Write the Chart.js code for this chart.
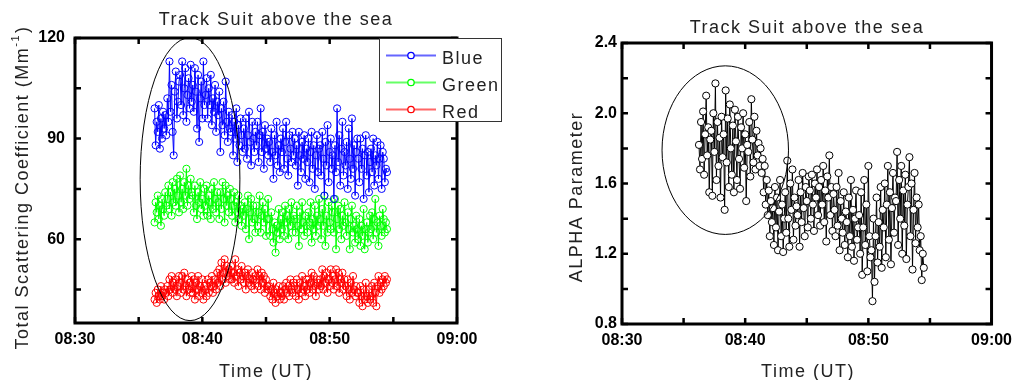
<!DOCTYPE html>
<html>
<head>
<meta charset="utf-8">
<script src="https://cdn.jsdelivr.net/npm/chart.js@4.4.1/dist/chart.umd.min.js"></script>
<style>
  body { margin: 0; background: #fff; }
  #wrap { position: relative; width: 1019px; height: 380px; }
  canvas { position: absolute; top: 0; }
  #left { left: 0; }
  #right { left: 520px; }
</style>
</head>
<body>
<div id="wrap">
  <canvas id="left" width="520" height="380"></canvas>
  <canvas id="right" width="499" height="380"></canvas>
</div>
<script>
// time of each sample, seconds after 08:30 UT (one row = one minute)
const times = [
  375, 380, 385, 390, 395, 400, 405, 410, 415, 420, 425, 430,
  435, 440, 445, 450, 455, 460, 465, 470, 475, 480, 485, 490,
  495, 500, 505, 510, 515, 520, 525, 530, 535, 540, 545, 550,
  555, 560, 565, 570, 575, 580, 585, 590, 595, 600, 605, 610,
  615, 620, 625, 630, 635, 640, 645, 650, 655, 660, 665, 670,
  675, 680, 685, 690, 695, 700, 705, 710, 715, 720, 725, 730,
  735, 740, 745, 750, 755, 760, 765, 770, 775, 780, 785, 790,
  795, 800, 805, 810, 815, 820, 825, 830, 835, 840, 845, 850,
  855, 860, 865, 870, 875, 880, 885, 890, 895, 900, 905, 910,
  915, 920, 925, 930, 935, 940, 945, 950, 955, 960, 965, 970,
  975, 980, 985, 990, 995, 1000, 1005, 1010, 1015, 1020, 1025, 1030,
  1035, 1040, 1045, 1050, 1055, 1060, 1065, 1070, 1075, 1080, 1085, 1090,
  1095, 1100, 1105, 1110, 1115, 1120, 1125, 1130, 1135, 1140, 1145, 1150,
  1155, 1160, 1165, 1170, 1175, 1180, 1185, 1190, 1195, 1200, 1205, 1210,
  1215, 1220, 1225, 1230, 1235, 1240, 1245, 1250, 1255, 1260, 1265, 1270,
  1275, 1280, 1285, 1290, 1295, 1300, 1305, 1310, 1315, 1320, 1325, 1330,
  1335, 1340, 1345, 1350, 1355, 1360, 1365, 1370, 1375, 1380, 1385, 1390,
  1395, 1400, 1405, 1410, 1415, 1420, 1425, 1430, 1435, 1440, 1445, 1450,
  1455, 1460, 1465, 1470
];

// total scattering coefficient (Mm-1)
const blue = [
  99, 88, 95, 92, 100, 87, 96, 90, 98, 93, 97, 91,
  102, 95, 113, 98, 106, 92, 85, 104, 110, 96, 101, 107,
  109, 100, 113, 97, 105, 111, 95, 103, 108, 99, 112, 101,
  106, 98, 111, 104, 93, 109, 89, 102, 107, 96, 113, 100,
  103, 108, 96, 105, 100, 109, 94, 102, 98, 106, 92, 101,
  97, 104, 86, 99, 94, 101, 91, 107, 95, 89, 98, 93,
  92, 97, 85, 95, 90, 99, 83, 94, 88, 96, 91, 86,
  93, 87, 96, 84, 91, 98, 89, 82, 95, 90, 86, 92,
  88, 95, 83, 91, 99, 86, 92, 81, 94, 87, 90, 85,
  89, 83, 93, 86, 78, 91, 85, 95, 82, 88, 80, 90,
  86, 93, 81, 89, 95, 84, 79, 91, 87, 83, 92, 85,
  90, 82, 88, 76, 92, 85, 80, 89, 84, 91, 78, 87,
  83, 90, 77, 86, 92, 81, 88, 75, 85, 91, 80, 87,
  88, 79, 92, 84, 73, 89, 82, 94, 77, 86, 90, 81,
  85, 72, 88, 80, 99, 83, 91, 76, 87, 95, 79, 86,
  82, 89, 75, 93, 84, 78, 96, 81, 88, 73, 86, 90,
  84, 77, 90, 81, 87, 72, 85, 91, 79, 86, 74, 83,
  87, 80, 90, 76, 85, 82, 89, 78, 84, 88, 75, 86,
  84, 77, 81, 80
];
const green = [
  65, 71, 68, 73, 66, 70, 64, 72, 69, 67, 74, 70,
  72, 76, 69, 74, 67, 77, 71, 75, 70, 78, 73, 68,
  79, 71, 75, 69, 77, 73, 81, 70, 76, 72, 78, 74,
  73, 68, 76, 70, 66, 74, 71, 77, 69, 72, 67, 75,
  70, 76, 67, 73, 71, 66, 75, 69, 77, 72, 68, 74,
  71, 66, 74, 69, 77, 72, 65, 76, 70, 73, 68, 75,
  72, 67, 70, 74, 65, 71, 68, 73, 66, 70, 64, 69,
  67, 71, 63, 69, 73, 60, 68, 72, 65, 70, 66, 62,
  70, 64, 68, 73, 62, 67, 71, 65, 69, 61, 66, 72,
  66, 61, 68, 63, 59, 65, 56, 64, 62, 69, 60, 66,
  63, 68, 61, 70, 65, 67, 60, 69, 64, 71, 62, 67,
  66, 62, 70, 64, 58, 68, 63, 71, 65, 61, 67, 64,
  62, 68, 65, 71, 59, 66, 63, 70, 61, 67, 64, 72,
  66, 60, 69, 64, 73, 58, 67, 62, 71, 65, 63, 70,
  68, 62, 72, 57, 66, 70, 63, 69, 60, 67, 64, 71,
  65, 61, 68, 63, 57, 66, 70, 62, 64, 59, 67, 63,
  60, 66, 58, 64, 61, 69, 57, 63, 65, 59, 62, 67,
  63, 68, 60, 66, 72, 62, 65, 58, 67, 64, 61, 69,
  66, 62, 65, 63
];
const red = [
  42, 44, 41, 45, 43, 42, 46, 43, 44, 42, 45, 44,
  46, 43, 48, 45, 49, 44, 47, 45, 48, 43, 46, 49,
  47, 44, 49, 45, 50, 46, 43, 48, 45, 47, 44, 49,
  44, 48, 42, 47, 45, 49, 43, 46, 44, 48, 42, 46,
  45, 43, 48, 44, 47, 46, 49, 44, 46, 48, 45, 50,
  47, 51, 46, 53, 48, 50, 54, 47, 52, 49, 51, 48,
  52, 48, 50, 47, 54, 49, 51, 46, 50, 48, 52, 49,
  47, 50, 45, 49, 51, 47, 48, 46, 50, 48, 45, 49,
  48, 51, 46, 49, 45, 50, 47, 49, 44, 48, 46, 45,
  46, 43, 45, 42, 47, 44, 41, 45, 43, 46, 42, 44,
  43, 46, 42, 45, 47, 44, 46, 43, 48, 45, 44, 47,
  46, 43, 48, 45, 42, 47, 44, 49, 45, 46, 43, 48,
  45, 48, 44, 47, 50, 45, 49, 46, 43, 48, 47, 45,
  48, 46, 51, 45, 49, 47, 50, 44, 48, 46, 51, 47,
  49, 45, 48, 51, 46, 50, 44, 48, 47, 50, 45, 48,
  46, 43, 48, 45, 42, 47, 44, 49, 45, 43, 46, 44,
  44, 41, 46, 43, 40, 45, 42, 47, 43, 41, 45, 42,
  43, 46, 41, 47, 44, 40, 46, 49, 44, 47, 45, 48,
  46, 49, 47, 48
];
// ALPHA parameter
const alpha = [
  1.82, 1.68, 1.95, 1.74, 2.01, 1.65, 1.88, 2.10, 1.76, 1.92, 1.55, 1.85,
  1.90, 1.53, 2.00, 1.78, 2.17, 1.62, 1.95, 1.70, 1.86, 1.52, 1.98, 1.75,
  1.88, 1.45, 2.13, 1.72, 1.97, 1.58, 2.05, 1.80, 1.65, 1.93, 1.55, 2.02,
  1.84, 1.62, 1.98, 1.74, 1.57, 1.92, 1.80, 2.00, 1.69, 1.88, 1.50, 1.82,
  1.78, 1.95, 1.64, 2.08, 1.85, 1.72, 1.98, 1.68, 1.90, 1.76, 1.83, 1.70,
  1.80, 1.66, 1.74, 1.55, 1.70, 1.48, 1.62, 1.42, 1.56, 1.30, 1.50, 1.38,
  1.46, 1.25, 1.58, 1.35, 1.52, 1.22, 1.44, 1.62, 1.30, 1.48, 1.21, 1.40,
  1.55, 1.32, 1.73, 1.40, 1.24, 1.60, 1.45, 1.68, 1.28, 1.52, 1.36, 1.47,
  1.42, 1.62, 1.24, 1.55, 1.38, 1.66, 1.46, 1.30, 1.58, 1.50, 1.35, 1.64,
  1.56, 1.40, 1.65, 1.48, 1.33, 1.60, 1.52, 1.68, 1.42, 1.58, 1.36, 1.62,
  1.48, 1.70, 1.38, 1.56, 1.27, 1.64, 1.52, 1.76, 1.42, 1.58, 1.33, 1.54,
  1.45, 1.30, 1.58, 1.36, 1.66, 1.22, 1.50, 1.40, 1.32, 1.55, 1.25, 1.44,
  1.38, 1.18, 1.52, 1.30, 1.62, 1.24, 1.45, 1.16, 1.40, 1.56, 1.28, 1.35,
  1.42, 1.20, 1.55, 1.08, 1.35, 1.62, 1.25, 1.48, 1.10, 1.70, 1.30, 1.18,
  1.22, 0.93, 1.40, 1.04, 1.30, 1.52, 1.15, 1.38, 1.24, 1.58, 1.12, 1.45,
  1.35, 1.60, 1.18, 1.48, 1.70, 1.28, 1.55, 1.14, 1.46, 1.66, 1.32, 1.52,
  1.50, 1.78, 1.25, 1.62, 1.40, 1.70, 1.20, 1.56, 1.36, 1.65, 1.17, 1.48,
  1.58, 1.75, 1.30, 1.60, 1.11, 1.45, 1.66, 1.26, 1.52, 1.35, 1.48, 1.22,
  1.30, 1.05, 1.20, 1.12
];

// axes
const xTickValues = [0, 600, 1200, 1800];
const xTickLabels = ['08:30', '08:40', '08:50', '09:00'];
const xMinorTicks = [300, 900, 1500];
const leftYTicks = [60, 90, 120];
const leftYMinor = [45, 75, 105];
const rightYTicks = [0.8, 1.2, 1.6, 2.0, 2.4];
const rightYMinor = [1.0, 1.4, 1.8, 2.2];

const seriesNames = ['Blue', 'Green', 'Red'];
const seriesColors = ['#0000ff', '#00ff00', '#ff0000'];

const FONT = "'Liberation Sans', Arial, sans-serif";

function points(vals) {
  return vals.map((v, i) => ({ x: times[i], y: v }));
}

// thick frame and inward ticks on all four sides
function drawFrame(chart, yMajor, yMinor) {
  const { ctx, chartArea: a, scales } = chart;
  const x = scales.x, y = scales.y;
  ctx.save();
  ctx.strokeStyle = '#000';
  ctx.lineWidth = 2.5;
  const len = 6;
  ctx.beginPath();
  xTickValues.concat(xMinorTicks).forEach(v => {
    const px = x.getPixelForValue(v);
    ctx.moveTo(px, a.bottom); ctx.lineTo(px, a.bottom - len);
    ctx.moveTo(px, a.top); ctx.lineTo(px, a.top + len);
  });
  yMajor.concat(yMinor).forEach(v => {
    const py = y.getPixelForValue(v);
    ctx.moveTo(a.left, py); ctx.lineTo(a.left + len, py);
    ctx.moveTo(a.right, py); ctx.lineTo(a.right - len, py);
  });
  ctx.stroke();
  ctx.lineWidth = 3;
  ctx.strokeRect(a.left, a.top, a.right - a.left, a.bottom - a.top);
  ctx.restore();
}

function drawEllipse(chart, cx, cy, rx, ry) {
  const { ctx, scales: { x, y } } = chart;
  const px = x.getPixelForValue(cx), py = y.getPixelForValue(cy);
  const rpx = Math.abs(x.getPixelForValue(cx + rx) - px);
  const rpy = Math.abs(y.getPixelForValue(cy + ry) - py);
  ctx.save();
  ctx.strokeStyle = '#000';
  ctx.lineWidth = 1;
  ctx.beginPath();
  ctx.ellipse(px, py, rpx, rpy, 0, 0, Math.PI * 2);
  ctx.stroke();
  ctx.restore();
}

function text(ctx, str, x, y, size, align) {
  ctx.font = size + 'px ' + FONT;
  ctx.letterSpacing = '1.5px';
  ctx.textAlign = align || 'center';
  ctx.textBaseline = 'alphabetic';
  ctx.fillStyle = '#222';
  ctx.fillText(str, x, y);
}

function xAxis() {
  return {
    type: 'linear', min: 0, max: 1800,
    grid: { display: false, drawTicks: false },
    border: { display: false },
    afterBuildTicks: s => { s.ticks = xTickValues.map(v => ({ value: v })); },
    ticks: {
      autoSkip: false, maxRotation: 0, padding: 7,
      color: '#000',
      font: { family: FONT, size: 16, weight: 'bold' },
      callback: v => xTickLabels[xTickValues.indexOf(v)]
    }
  };
}

const leftPlugin = {
  id: 'leftDecor',
  afterDatasetsDraw(chart) {
    const ctx = chart.ctx;
    drawEllipse(chart, 542, 77.9, 235, 42.2);
    drawFrame(chart, leftYTicks, leftYMinor);
    // legend box
    ctx.save();
    ctx.fillStyle = '#fff';
    ctx.fillRect(379, 38, 123, 84);
    ctx.strokeStyle = '#333';
    ctx.lineWidth = 1;
    ctx.strokeRect(379.5, 38.5, 122, 83);
    seriesNames.forEach((name, i) => {
      const ly = 55.5 + i * 27;
      ctx.strokeStyle = seriesColors[i];
      ctx.globalAlpha = 0.6;
      ctx.lineWidth = 2;
      ctx.beginPath();
      ctx.moveTo(386, ly); ctx.lineTo(436, ly);
      ctx.stroke();
      ctx.globalAlpha = 1;
      ctx.fillStyle = '#fff';
      ctx.lineWidth = 1.3;
      ctx.beginPath();
      ctx.arc(411, ly, 3.2, 0, Math.PI * 2);
      ctx.fill(); ctx.stroke();
      text(ctx, name, 442, ly + 8, 18, 'left');
    });
    ctx.restore();
  },
  afterDraw(chart) {
    const ctx = chart.ctx;
    ctx.save();
    text(ctx, 'Track Suit above the sea', 276, 25, 18);
    text(ctx, 'Time (UT)', 266, 376.5, 18);
    // rotated y title with superscript
    ctx.translate(28, 188);
    ctx.rotate(-Math.PI / 2);
    ctx.font = '18px ' + FONT;
    ctx.letterSpacing = '1.5px';
    const a = 'Total Scattering Coefficient (Mm';
    const wa = ctx.measureText(a).width;
    ctx.font = '11px ' + FONT;
    const wb = ctx.measureText('-1').width;
    ctx.font = '18px ' + FONT;
    const wc = ctx.measureText(')').width;
    const sx = -(wa + wb + wc) / 2;
    text(ctx, a, sx, 0, 18, 'left');
    text(ctx, '-1', sx + wa, -9, 11, 'left');
    text(ctx, ')', sx + wa + wb + 1, 0, 18, 'left');
    ctx.restore();
  }
};

const rightPlugin = {
  id: 'rightDecor',
  afterDatasetsDraw(chart) {
    drawEllipse(chart, 503, 1.79, 308, 0.48);
    drawFrame(chart, rightYTicks, rightYMinor);
  },
  afterDraw(chart) {
    const ctx = chart.ctx;
    ctx.save();
    text(ctx, 'Track Suit above the sea', 287, 33, 18);
    text(ctx, 'Time (UT)', 288, 376.5, 18);
    ctx.translate(62, 197);
    ctx.rotate(-Math.PI / 2);
    text(ctx, 'ALPHA Parameter', 0, 0, 18);
    ctx.restore();
  }
};

new Chart(document.getElementById('left'), {
  type: 'line',
  data: {
    datasets: [
      { label: 'Blue', data: points(blue) },
      { label: 'Green', data: points(green) },
      { label: 'Red', data: points(red) }
    ].map((d, i) => Object.assign(d, {
      borderColor: seriesColors[i],
      borderWidth: 1,
      pointRadius: 3.6,
      pointBorderWidth: 1,
      pointBorderColor: seriesColors[i],
      pointBackgroundColor: 'rgba(255,255,255,0)',
      tension: 0
    }))
  },
  options: {
    responsive: false,
    animation: false,
    devicePixelRatio: 1,
    layout: { padding: { top: 38, right: 63, left: 0, bottom: 0 } },
    plugins: { legend: { display: false }, tooltip: { enabled: false } },
    scales: {
      x: Object.assign(xAxis(), { afterFit: s => { s.height = 57; } }),
      y: {
        min: 35, max: 120,
        grid: { display: false, drawTicks: false },
        border: { display: false },
        afterBuildTicks: s => { s.ticks = leftYTicks.map(v => ({ value: v })); },
        afterFit: s => { s.width = 75; },
        ticks: {
          padding: 10, color: '#000',
          font: { family: FONT, size: 16, weight: 'bold' }
        }
      }
    }
  },
  plugins: [leftPlugin]
});

new Chart(document.getElementById('right'), {
  type: 'line',
  data: {
    datasets: [{
      label: 'ALPHA',
      data: points(alpha),
      borderColor: '#000',
      borderWidth: 1,
      pointRadius: 3.6,
      pointBorderWidth: 1,
      pointBorderColor: '#000',
      pointBackgroundColor: '#fff',
      tension: 0
    }]
  },
  options: {
    responsive: false,
    animation: false,
    devicePixelRatio: 1,
    layout: { padding: { top: 43, right: 24, left: 0, bottom: 0 } },
    plugins: { legend: { display: false }, tooltip: { enabled: false } },
    scales: {
      x: Object.assign(xAxis(), { afterFit: s => { s.height = 56; } }),
      y: {
        min: 0.8, max: 2.4,
        grid: { display: false, drawTicks: false },
        border: { display: false },
        afterBuildTicks: s => { s.ticks = rightYTicks.map(v => ({ value: v })); },
        afterFit: s => { s.width = 102; },
        ticks: {
          padding: 5, color: '#000',
          font: { family: FONT, size: 16, weight: 'bold' },
          callback: v => v.toFixed(1)
        }
      }
    }
  },
  plugins: [rightPlugin]
});
</script>
</body>
</html>
